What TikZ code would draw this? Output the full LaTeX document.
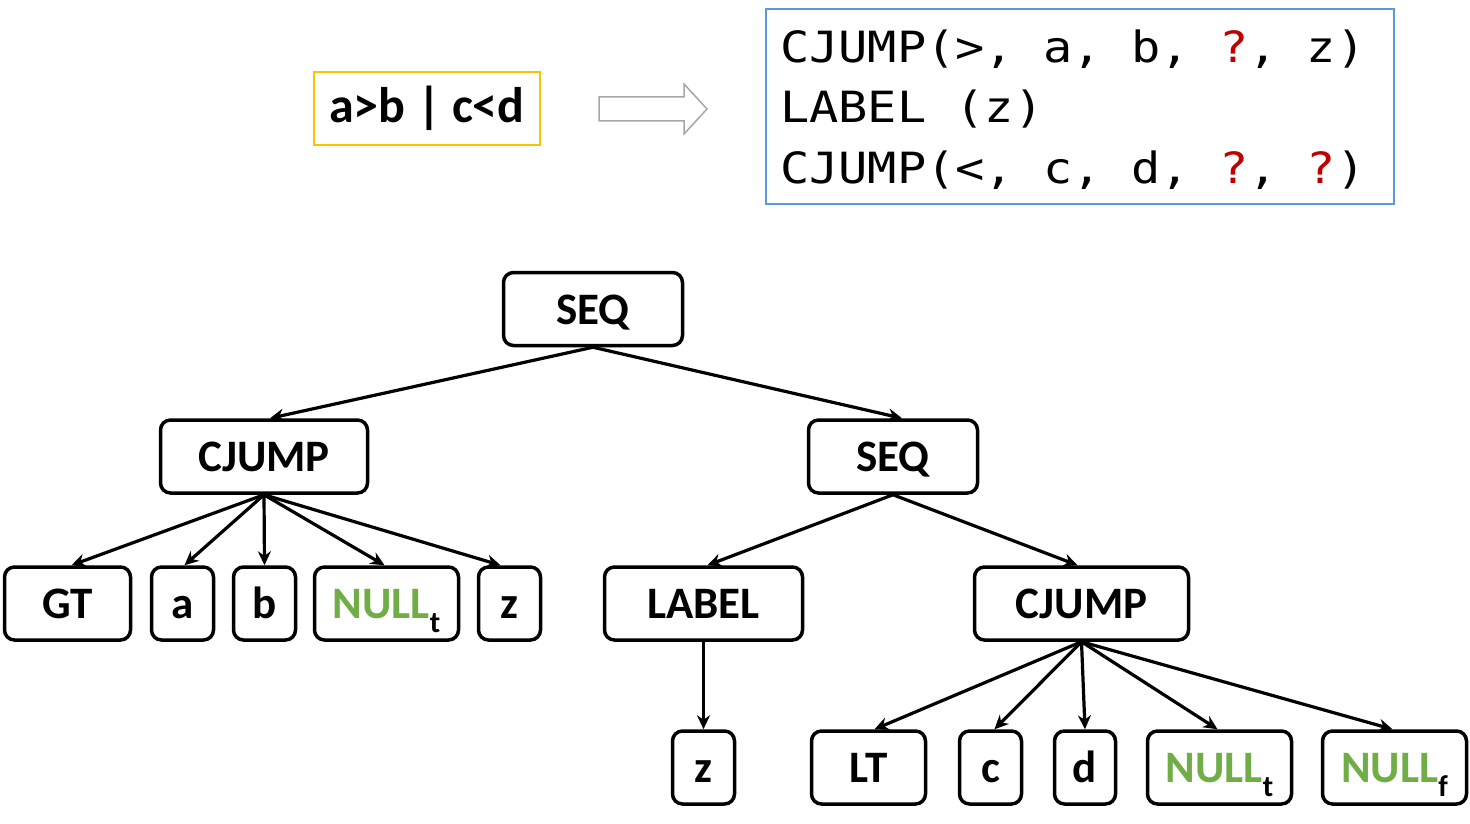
\documentclass[tikz,border=0pt]{standalone}
\usepackage{fontspec}
\setmainfont{Carlito}
\newfontfamily\codefont[FakeStretch=1.13]{DejaVu Sans Mono}
\usetikzlibrary{arrows.meta}
\definecolor{ngreen}{HTML}{70AD47}
\definecolor{qred}{HTML}{C00000}
\definecolor{ybord}{HTML}{FFC000}
\definecolor{bbord}{HTML}{5B9BD5}
\definecolor{garrow}{HTML}{A6A6A6}
\newcommand{\nullsub}[1]{{\color{ngreen}NULL}\raisebox{-0.3em}{\fontsize{30}{30}\selectfont #1}}
\begin{document}
\begin{tikzpicture}[x=1pt,y=-1pt,
  tn/.style={draw, line width=3.5pt, rounded corners=10pt, minimum height=73pt,
    inner xsep=0pt, inner ysep=0pt, text height=30pt, text depth=0pt,
    font=\fontsize{45}{45}\selectfont\bfseries},
  edge/.style={line width=3.2pt, -{Stealth[length=14pt,width=13pt]}},
  codeline/.style={anchor=base west, inner sep=0pt, font=\codefont\fontsize{43}{43}\selectfont}]
\useasboundingbox (0,0) rectangle (1470,824);

% top part
\node[draw=ybord, line width=2pt, minimum width=226pt, minimum height=73pt, inner sep=0pt,
  font=\fontsize{50}{50}\selectfont\bfseries] (expr) at (427,108.5) {a>b | c<d};
\draw[garrow, line width=1.5pt] (599,97) -- (684,97) -- (684,84) -- (707,109) -- (684,134) -- (684,121) -- (599,121) -- cycle;
\node[draw=bbord, line width=2pt, minimum width=628pt, minimum height=195pt, inner sep=0pt] (code) at (1080,106.5) {};
\node[codeline] (l1) at (780,63) {CJUMP(>, a, b, {\color{qred}?}, z)};
\node[codeline] (l2) at (780,123) {LABEL (z)};
\node[codeline] (l3) at (780,183) {CJUMP(<, c, d, {\color{qred}?}, {\color{qred}?})};

% tree nodes
\node[tn, minimum width=179pt] (seq1) at (593,309) {SEQ};
\node[tn, minimum width=207pt] (cj1) at (264,456.5) {CJUMP};
\node[tn, minimum width=169pt] (seq2) at (893,456.5) {SEQ};
\node[tn, minimum width=126pt] (gt) at (67.5,603.5) {GT};
\node[tn, minimum width=62pt] (a) at (182.5,603.5) {a};
\node[tn, minimum width=62pt] (b) at (264.5,603.5) {b};
\node[tn, minimum width=144pt] (n1) at (386.5,603.5) {\nullsub{t}};
\node[tn, minimum width=62pt] (z1) at (509.5,603.5) {z};
\node[tn, minimum width=198pt] (lab) at (703.5,603.5) {LABEL};
\node[tn, minimum width=214pt] (cj2) at (1081.5,603.5) {CJUMP};
\node[tn, minimum width=62pt] (z2) at (703.5,767.5) {z};
\node[tn, minimum width=114pt] (lt) at (868.5,767.5) {LT};
\node[tn, minimum width=62pt] (c) at (990.5,767.5) {c};
\node[tn, minimum width=61pt] (d) at (1085,767.5) {d};
\node[tn, minimum width=144pt] (n2) at (1219.5,767.5) {\nullsub{t}};
\node[tn, minimum width=144pt] (n3) at (1394.5,767.5) {\nullsub{f}};

% edges
\draw[edge] (seq1.south) -- ([xshift=6pt]cj1.north);
\draw[edge] (seq1.south) -- ([xshift=9pt]seq2.north);
\draw[edge] (cj1.south) -- ([xshift=4pt]gt.north);
\draw[edge] (cj1.south) -- ([xshift=2pt]a.north);
\draw[edge] (cj1.south) -- (b.north);
\draw[edge] (cj1.south) -- ([xshift=-2pt]n1.north);
\draw[edge] (cj1.south) -- ([xshift=-9pt]z1.north);
\draw[edge] (seq2.south) -- ([xshift=4pt]lab.north);
\draw[edge] (seq2.south) -- ([xshift=-4pt]cj2.north);
\draw[edge] (lab.south) -- (z2.north);
\draw[edge] (cj2.south) -- ([xshift=6pt]lt.north);
\draw[edge] (cj2.south) -- ([xshift=4pt]c.north);
\draw[edge] (cj2.south) -- (d.north);
\draw[edge] (cj2.south) -- ([xshift=-2pt]n2.north);
\draw[edge] (cj2.south) -- ([xshift=-2pt]n3.north);
\end{tikzpicture}
\end{document}
